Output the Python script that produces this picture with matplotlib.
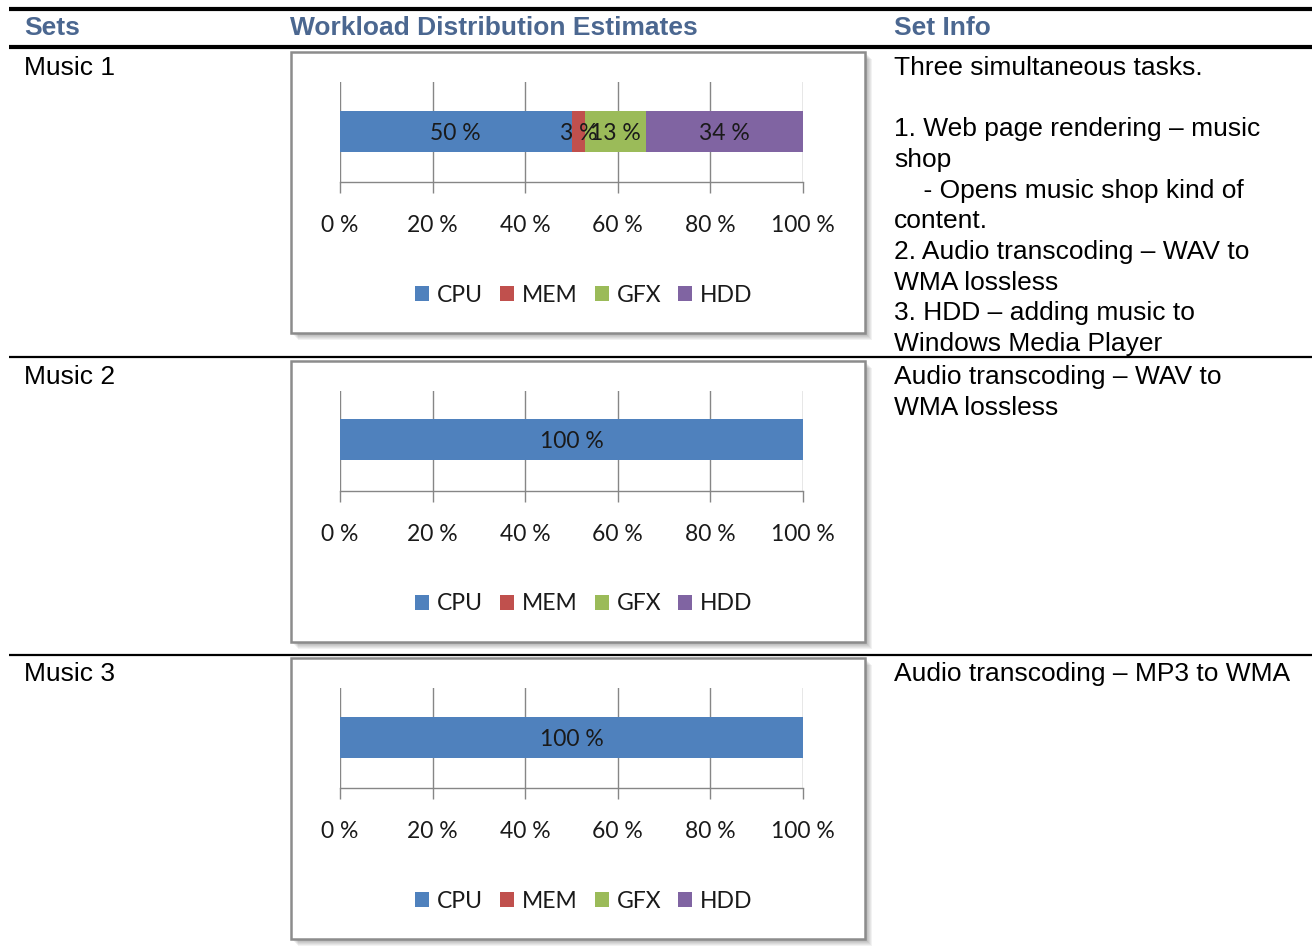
import matplotlib
matplotlib.use("Agg")
import matplotlib.pyplot as plt
from matplotlib.patches import Rectangle, Patch
from matplotlib.lines import Line2D

# ---------------- data ----------------
headers = ["Sets", "Workload Distribution Estimates", "Set Info"]
sets = ["Music 1", "Music 2", "Music 3"]
components = ["CPU", "MEM", "GFX", "HDD"]
cpu = [50, 100, 100]
mem = [3, 0, 0]
gfx = [13, 0, 0]
hdd = [34, 0, 0]
xticks = [0, 20, 40, 60, 80, 100]
set_info = [
    ["Three simultaneous tasks.", "",
     "1. Web page rendering \u2013 music", "shop",
     "    - Opens music shop kind of", "content.",
     "2. Audio transcoding \u2013 WAV to", "WMA lossless",
     "3. HDD \u2013 adding music to", "Windows Media Player"],
    ["Audio transcoding \u2013 WAV to", "WMA lossless"],
    ["Audio transcoding \u2013 MP3 to WMA"],
]
colors = ["#4F81BD", "#C0504D", "#9BBB59", "#8064A2"]

# ---------------- layout helpers ----------------
W, H = 1312, 948
fig = plt.figure(figsize=(W / 100, H / 100), dpi=100)
fig.patch.set_facecolor("white")


def fx(x):
    return x / W


def fy(y):
    return 1 - y / H


def hline(y, x0, x1, lw, color="black"):
    fig.add_artist(Line2D([fx(x0), fx(x1)], [fy(y), fy(y)], lw=lw, color=color,
                          transform=fig.transFigure, solid_capstyle="butt"))


body_font = "Liberation Sans"
chart_font = "Lato"
header_color = "#4B6790"

# table rules
hline(9, 9, W, 3.0)
hline(47, 9, W, 3.0)
hline(357, 9, W, 1.6)
hline(655, 9, W, 1.6)

# headers
for txt, x in zip(headers, [24, 290, 894]):
    fig.text(fx(x), fy(28), txt, fontsize=19, fontweight="bold", color=header_color,
             family=body_font, va="center", ha="left")

row_offsets = [0, 309, 606]
line_pitch = 30.67

for i, name in enumerate(sets):
    off = row_offsets[i]
    # set name
    fig.text(fx(24), fy(68 + off), name, fontsize=19, family=body_font,
             va="center", ha="left", color="black")
    # set info lines
    for k, line in enumerate(set_info[i]):
        if line:
            fig.text(fx(894), fy(68 + off + k * line_pitch), line, fontsize=19,
                     family=body_font, va="center", ha="left", color="black")

    # chart box with soft shadow
    bx0, bx1, by0, by1 = 291, 865, 52 + off, 333 + off
    for s in range(7, 0, -1):
        fig.add_artist(Rectangle((fx(bx0 + s), fy(by1 + s)), fx(bx1 - bx0), (by1 - by0) / H,
                                 transform=fig.transFigure, facecolor="black",
                                 alpha=0.05, edgecolor="none", zorder=0))
    fig.add_artist(Rectangle((fx(bx0), fy(by1)), fx(bx1 - bx0), (by1 - by0) / H,
                             transform=fig.transFigure, facecolor="white",
                             edgecolor="#8C8C8C", lw=1.8, zorder=1))

    # chart axes
    ax_l, ax_r, ax_t, ax_b = 340, 803, 82 + off, 182 + off
    ax = fig.add_axes([fx(ax_l), fy(ax_b), fx(ax_r - ax_l), (ax_b - ax_t) / H])
    ax.set_facecolor("none")
    ax.set_zorder(2)
    vals = [cpu[i], mem[i], gfx[i], hdd[i]]
    left = 0
    for v, c in zip(vals, colors):
        if v > 0:
            ax.barh([0.01], [v], left=left, height=0.41, color=c, zorder=3)
            ax.text(left + v / 2, -0.01, f"{v} %", ha="center", va="center",
                    fontsize=16.5, family=chart_font, color="#1a1a1a", zorder=4)
        left += v
    ax.set_xlim(0, 100)
    ax.set_ylim(-0.5, 0.5)
    ax.set_xticks(xticks)
    ax.set_xticklabels([f"{t} %" for t in xticks], fontsize=16.5, family=chart_font,
                       color="#1a1a1a")
    ax.set_yticks([])
    ax.grid(axis="x", color="#868686", lw=1.0, zorder=0)
    ax.tick_params(axis="x", direction="out", length=8, width=1.0, color="#868686", pad=16)
    for sp in ["top", "right", "left"]:
        ax.spines[sp].set_visible(False)
    ax.spines["bottom"].set_color("#868686")
    ax.spines["bottom"].set_linewidth(1.0)

    handles = [Patch(facecolor=c, edgecolor="none") for c in colors]
    leg = ax.legend(handles, components, loc="center", ncol=4, frameon=False,
                    bbox_to_anchor=(fx(584), fy(295 + off)), bbox_transform=fig.transFigure,
                    handlelength=0.6, handleheight=0.6, handletextpad=0.35,
                    columnspacing=0.75, prop={"family": chart_font, "size": 16.5})
    for t in leg.get_texts():
        t.set_color("#1a1a1a")

fig.savefig("out.png", dpi=100)
